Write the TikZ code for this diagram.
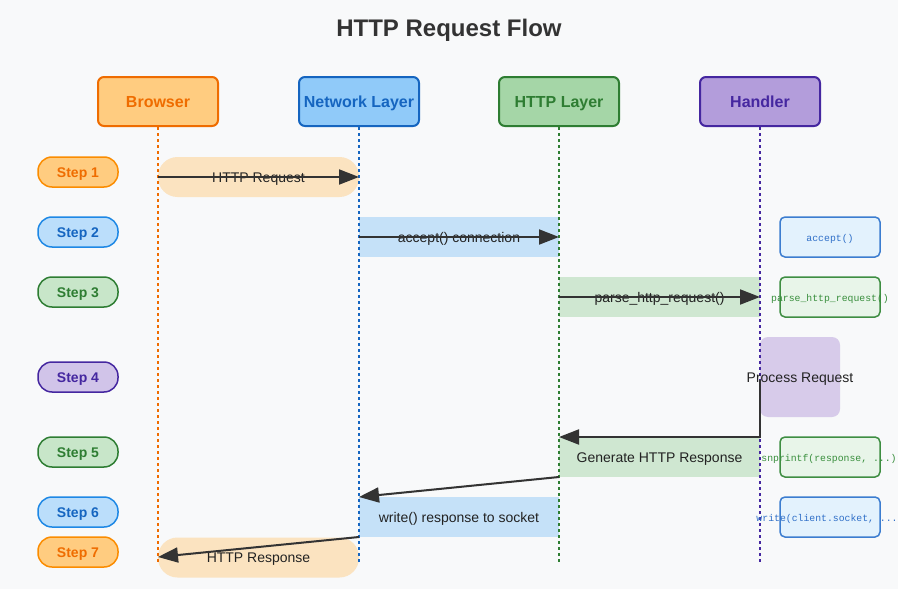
\documentclass[tikz,border=0pt]{standalone}
\usepackage{fontspec}
\setmainfont{Liberation Sans}
\newfontfamily\codefont{Liberation Mono}
\usetikzlibrary{arrows.meta}
\definecolor{bgc}{HTML}{F8F9FA}
\definecolor{titlec}{HTML}{333333}
\definecolor{textc}{HTML}{222222}
\definecolor{arrowc}{HTML}{333333}
% actor colours
\definecolor{orFill}{HTML}{FFCC80}\definecolor{orLine}{HTML}{EF6C00}\definecolor{orStep}{HTML}{FB8C00}
\definecolor{blFill}{HTML}{90CAF9}\definecolor{blLine}{HTML}{1565C0}\definecolor{blStep}{HTML}{BBDEFB}\definecolor{blStepLine}{HTML}{1E88E5}
\definecolor{grFill}{HTML}{A5D6A7}\definecolor{grLine}{HTML}{2E7D32}\definecolor{grStep}{HTML}{C8E6C9}
\definecolor{puFill}{HTML}{B39DDB}\definecolor{puLine}{HTML}{4527A0}\definecolor{puStep}{HTML}{D1C4E9}
% bands
\definecolor{orBand}{HTML}{FBE3C0}
\definecolor{blBand}{HTML}{C5E1F8}
\definecolor{grBand}{HTML}{CFE7D1}
\definecolor{puBand}{HTML}{D7CBEA}
% code boxes
\definecolor{cbBlFill}{HTML}{E3F2FD}\definecolor{cbBlLine}{HTML}{3C7DD0}\definecolor{cbBlText}{HTML}{2F6FC8}
\definecolor{cbGrFill}{HTML}{E8F5E9}\definecolor{cbGrLine}{HTML}{3E8E42}\definecolor{cbGrText}{HTML}{388E3C}
\tikzset{
  actor/.style={draw, line width=2pt, rounded corners=6pt, minimum width=120pt, minimum height=49pt, inner sep=0pt, text height=13.5pt, text depth=2pt, font=\bfseries\fontsize{16}{19}\selectfont},
  steppill/.style={draw, line width=1.5pt, rounded corners=14pt, minimum width=80pt, minimum height=30pt, inner sep=0pt, text height=12pt, text depth=2pt, font=\bfseries\fontsize{14}{16}\selectfont},
  band/.style={inner sep=0pt, minimum height=40pt, text=textc, text height=12pt, text depth=2pt, font=\fontsize{14}{16}\selectfont},
  lbl/.style={inner sep=0pt, text=textc, text height=12pt, text depth=2pt, font=\fontsize{14}{16}\selectfont},
  lifeline/.style={line width=2pt, dash pattern=on 3pt off 3pt},
  msg/.style={draw=arrowc, line width=2pt, line join=miter, -{Triangle[length=20pt,width=15pt]}},
  codebox/.style={draw, line width=1.5pt, rounded corners=5pt, minimum width=100pt, minimum height=40pt, inner sep=0pt},
  codetext/.style={inner sep=0pt, font=\codefont\fontsize{9.8}{12}\selectfont},
}
\begin{document}
\begin{tikzpicture}[x=1pt,y=-1pt]
\useasboundingbox[fill=bgc] (0,0) rectangle (898,589);

% title
\node[font=\bfseries\fontsize{24}{28}\selectfont, text=titlec, text height=19.2pt, text depth=2pt, inner sep=0pt] (title) at (449,28) {HTTP Request Flow};

% actors
\node[actor, fill=orFill, draw=orLine, text=orLine] (browser) at (158,101.5) {Browser};
\node[actor, fill=blFill, draw=blLine, text=blLine] (network) at (359,101.5) {Network Layer};
\node[actor, fill=grFill, draw=grLine, text=grLine] (http) at (559,101.5) {HTTP Layer};
\node[actor, fill=puFill, draw=puLine, text=puLine] (handler) at (760,101.5) {Handler};

% bands
\node[band, fill=orBand, rounded corners=19.5pt, minimum width=201pt] (b1) at (258.5,177) {HTTP Request};
\node[band, fill=blBand, minimum width=200pt] (b2) at (459,237) {accept() connection};
\node[band, fill=grBand, minimum width=201pt] (b3) at (659.5,297) {parse\_http\_request()};
\node[fill=puBand, rounded corners=8pt, minimum width=80pt, minimum height=80pt, inner sep=0pt] (b4) at (800,377) {};
\node[band, fill=grBand, minimum width=201pt] (b5) at (659.5,457) {Generate HTTP Response};
\node[band, fill=blBand, minimum width=200pt] (b6) at (459,517) {write() response to socket};
\node[band, fill=orBand, rounded corners=19.5pt, minimum width=201pt] (b7) at (258.5,557.5) {HTTP Response};

% lifelines
\coordinate (browserEnd) at (158,563);
\coordinate (networkEnd) at (359,563);
\coordinate (httpEnd) at (559,563);
\coordinate (handlerEnd) at (760,563);
\draw[lifeline, draw=orLine] (browser.south) -- (browserEnd);
\draw[lifeline, draw=blLine] (network.south) -- (networkEnd);
\draw[lifeline, draw=grLine] (http.south) -- (httpEnd);
\draw[lifeline, draw=puLine] (handler.south) -- (handlerEnd);

\node[lbl] (t4) at (b4.center) {Process Request};

% steps
\node[steppill, fill=orFill, draw=orStep, text=orLine] (s1) at (78,172) {Step 1};
\node[steppill, fill=blStep, draw=blStepLine, text=blLine] (s2) at (78,232) {Step 2};
\node[steppill, fill=grStep, draw=grLine, text=grLine] (s3) at (78,292) {Step 3};
\node[steppill, fill=puStep, draw=puLine, text=puLine] (s4) at (78,377) {Step 4};
\node[steppill, fill=grStep, draw=grLine, text=grLine] (s5) at (78,452) {Step 5};
\node[steppill, fill=blStep, draw=blStepLine, text=blLine] (s6) at (78,512) {Step 6};
\node[steppill, fill=orFill, draw=orStep, text=orLine] (s7) at (78,552) {Step 7};

% message points
\coordinate (m1a) at (158,177); \coordinate (m1b) at (359,177);
\coordinate (m2a) at (359,237); \coordinate (m2b) at (559,237);
\coordinate (m3a) at (559,297); \coordinate (m3b) at (760,297);
\coordinate (m5a) at (760,380); \coordinate (m5c) at (760,437); \coordinate (m5b) at (559,437);
\coordinate (m6a) at (559,477); \coordinate (m6b) at (359,497);
\coordinate (m7a) at (359,537); \coordinate (m7b) at (158,557);

\draw[msg] (m1a) -- (m1b);
\draw[msg] (m2a) -- (m2b);
\draw[msg] (m3a) -- (m3b);
\draw[msg] (m5a) -- (m5c) -- (m5b);
\draw[msg] (m6a) -- (m6b);
\draw[msg] (m7a) -- (m7b);

% code boxes
\node[codebox, fill=cbBlFill, draw=cbBlLine] (c2) at (830,237) {};
\node[codetext, text=cbBlText] (c2t) at (830,239) {accept()};
\node[codebox, fill=cbGrFill, draw=cbGrLine] (c3) at (830,297) {};
\node[codetext, text=cbGrText] (c3t) at (830,298.5) {parse\_http\_request()};
\node[codebox, fill=cbGrFill, draw=cbGrLine] (c5) at (830,457) {};
\node[codetext, text=cbGrText] (c5t) at (829,458.5) {snprintf(response, ...)};
\node[codebox, fill=cbBlFill, draw=cbBlLine] (c6) at (830,517) {};
\node[codetext, text=cbBlText] (c6t) at (830,519) {write(client.socket, ...)};
\end{tikzpicture}
\end{document}
